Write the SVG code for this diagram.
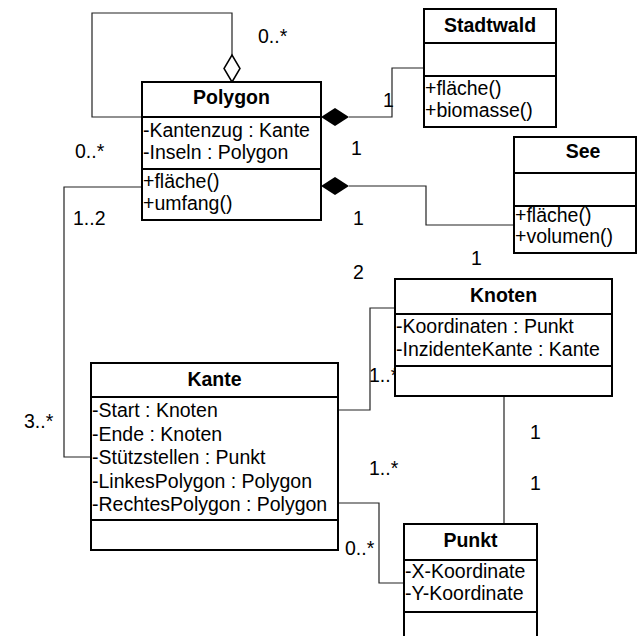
<svg xmlns="http://www.w3.org/2000/svg" width="637" height="636" viewBox="0 0 637 636">
<style>
.box{fill:#fff;stroke:#000;stroke-width:2}
.sep{stroke:#000;stroke-width:2}
.t{font-family:"Liberation Sans",Arial,sans-serif;font-size:19.5px;fill:#000}
.b{font-family:"Liberation Sans",Arial,sans-serif;font-size:19.5px;font-weight:bold;fill:#000;text-anchor:middle}
.c{fill:none;stroke:#222;stroke-width:1.2}
</style>
<rect width="637" height="636" fill="#fff"/>
<g id="connectors">
<polyline class="c" points="232,55 232,13 92,13 92,117 142,117"/>
<polygon points="232,82 240,68.5 232,55 224,68.5" fill="#fff" stroke="#000" stroke-width="1.5"/>
<polyline class="c" points="349,117 392,117 392,68 424,68"/>
<polygon points="321,117 335,108 349,117 335,126" fill="#000"/>
<polyline class="c" points="349,186 426,186 426,225 514,225"/>
<polygon points="321,186 335,177 349,186 335,195" fill="#000"/>
<polyline class="c" points="142,187 64,187 64,457 91,457"/>
<polyline class="c" points="338,410 370,410 370,308 395,308"/>
<polyline class="c" points="338,503 379,503 379,583 404,583"/>
<line class="c" x1="504" y1="396" x2="504" y2="524"/>
<text class="t" x="258" y="43">0..*</text>
<text class="t" x="75" y="158">0..*</text>
<text class="t" x="73" y="225">1..2</text>
<text class="t" x="24" y="428">3..*</text>
<text class="t" x="383" y="107">1</text>
<text class="t" x="351" y="155">1</text>
<text class="t" x="353" y="225">1</text>
<text class="t" x="471" y="265">1</text>
<text class="t" x="353" y="279">2</text>
<text class="t" x="369" y="382">1..*</text>
<text class="t" x="369" y="475">1..*</text>
<text class="t" x="345" y="555">0..*</text>
<text class="t" x="530" y="439">1</text>
<text class="t" x="530" y="490">1</text>
</g>
<g id="polygon">
<rect class="box" x="142" y="82" width="179" height="138"/>
<line class="sep" x1="142" y1="117" x2="321" y2="117"/>
<line class="sep" x1="142" y1="169" x2="321" y2="169"/>
<text class="b" x="231.5" y="104">Polygon</text>
<text class="t" x="143" y="137">-Kantenzug : Kante</text>
<text class="t" x="143" y="159">-Inseln : Polygon</text>
<text class="t" x="143" y="188">+fläche()</text>
<text class="t" x="143" y="210">+umfang()</text>
</g>
<g id="stadtwald">
<rect class="box" x="424" y="9" width="132" height="118"/>
<line class="sep" x1="424" y1="43" x2="556" y2="43"/>
<line class="sep" x1="424" y1="76" x2="556" y2="76"/>
<text class="b" x="490" y="32">Stadtwald</text>
<text class="t" x="425" y="95">+fläche()</text>
<text class="t" x="425" y="117">+biomasse()</text>
</g>
<g id="see">
<rect class="box" x="514" y="137" width="122" height="116"/>
<line class="sep" x1="514" y1="173" x2="636" y2="173"/>
<line class="sep" x1="514" y1="206" x2="636" y2="206"/>
<text class="b" x="583" y="158">See</text>
<text class="t" x="515" y="222">+fläche()</text>
<text class="t" x="515" y="243">+volumen()</text>
</g>
<g id="knoten">
<rect class="box" x="395" y="279" width="217" height="117"/>
<line class="sep" x1="395" y1="314" x2="612" y2="314"/>
<line class="sep" x1="395" y1="366" x2="612" y2="366"/>
<text class="b" x="503.5" y="302">Knoten</text>
<text class="t" x="396" y="333">-Koordinaten : Punkt</text>
<text class="t" x="396" y="356">-InzidenteKante : Kante</text>
</g>
<g id="kante">
<rect class="box" x="91" y="363" width="247" height="187"/>
<line class="sep" x1="91" y1="397" x2="338" y2="397"/>
<line class="sep" x1="91" y1="520" x2="338" y2="520"/>
<text class="b" x="214.5" y="386">Kante</text>
<text class="t" x="92" y="417">-Start : Knoten</text>
<text class="t" x="92" y="440.5">-Ende : Knoten</text>
<text class="t" x="92" y="464">-Stützstellen : Punkt</text>
<text class="t" x="92" y="487.5">-LinkesPolygon : Polygon</text>
<text class="t" x="92" y="511">-RechtesPolygon : Polygon</text>
</g>
<g id="punkt">
<rect class="box" x="404" y="524" width="133" height="130"/>
<line class="sep" x1="404" y1="560" x2="537" y2="560"/>
<line class="sep" x1="404" y1="612" x2="537" y2="612"/>
<text class="b" x="470.5" y="547">Punkt</text>
<text class="t" x="405" y="578">-X-Koordinate</text>
<text class="t" x="405" y="600">-Y-Koordinate</text>
</g>
</svg>
